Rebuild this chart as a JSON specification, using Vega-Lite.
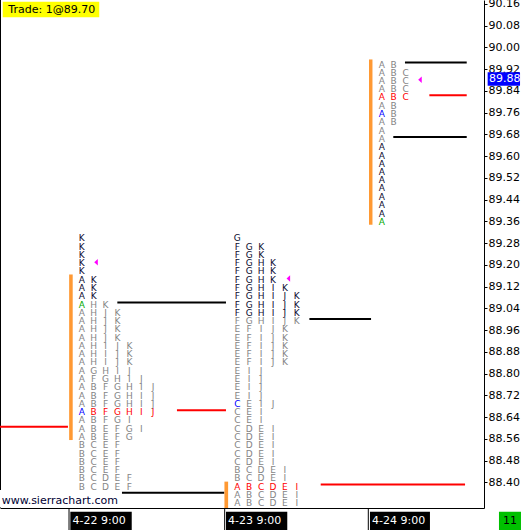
{
"$schema": "https://vega.github.io/schema/vega-lite/v6.json",
"width": 484, "height": 508,
"autosize": {"type": "none"},
"padding": {"left": 0, "top": 0, "right": 40, "bottom": 22},
"background": "white",
"config": {"view": {"stroke": null}, "font": "DejaVu Sans"},
"resolve": {"scale": {"color": "independent"}},
"encoding": {
  "x": {"field": "x", "type": "quantitative", "scale": {"domain": [0, 40.672], "nice": false, "zero": false},
        "axis": {"orient": "bottom", "title": null, "grid": false, "ticks": false, "labels": false, "domain": true, "domainColor": "#000000", "domainWidth": 1}},
  "y": {"field": "y", "type": "quantitative", "scale": {"domain": [88.306, 90.1747], "nice": false, "zero": false},
        "axis": {"orient": "right", "title": null, "grid": false, "format": ".2f",
                 "values": [88.40, 88.48, 88.56, 88.64, 88.72, 88.80, 88.88, 88.96, 89.04, 89.12, 89.20, 89.28, 89.36, 89.44, 89.52, 89.60, 89.68, 89.76, 89.84, 89.92, 90.00, 90.08, 90.16],
                 "domain": true, "domainColor": "#000000", "domainWidth": 1, "ticks": true, "tickSize": 3, "tickColor": "#000000", "tickWidth": 1,
                 "labelFont": "DejaVu Sans", "labelFontSize": 11, "labelColor": "#000000", "labelPadding": 1, "labelOverlap": false, "labelBound": false, "labelFlush": false}}
},
"layer": [
  {"data": {"values": [{"x": 0, "y": 88.306, "y2": 90.1747}]},
   "mark": {"type": "rule", "color": "#000000", "strokeWidth": 2},
   "encoding": {"y2": {"field": "y2"}}},
  {"data": {"values": [{"x": 5.8, "y": 88.306, "y2": 88.225}, {"x": 18.88, "y": 88.306, "y2": 88.225}, {"x": 30.95, "y": 88.306, "y2": 88.225}]},
   "mark": {"type": "rule", "color": "#000000", "strokeWidth": 1},
   "encoding": {"y2": {"field": "y2"}}},
  {"data": {"values": [
     {"x": 0, "x2": 5.71, "y": 88.605, "kind": "POC"},
     {"x": 9.86, "x2": 18.99, "y": 89.062, "kind": "VA"},
     {"x": 14.87, "x2": 18.99, "y": 88.666, "kind": "POC"},
     {"x": 9.87, "x2": 18.85, "y": 88.362, "kind": "VA"},
     {"x": 26.0, "x2": 31.18, "y": 89.001, "kind": "VA"},
     {"x": 26.95, "x2": 39.08, "y": 88.392, "kind": "POC"},
     {"x": 34.03, "x2": 39.22, "y": 89.945, "kind": "VA"},
     {"x": 36.08, "x2": 39.22, "y": 89.824, "kind": "POC"},
     {"x": 33.05, "x2": 39.22, "y": 89.671, "kind": "VA"}]},
   "mark": {"type": "rule", "strokeWidth": 2},
   "encoding": {"x2": {"field": "x2"}, "color": {"field": "kind", "type": "nominal", "scale": {"domain": ["VA", "POC"], "range": ["#000000", "#ff0000"]}, "legend": null}}},
  {"data": {"values": [
     {"x": 5.81, "x2": 6.11, "y": 89.165, "y2": 88.556},
     {"x": 18.86, "x2": 19.17, "y": 88.403, "y2": 88.306},
     {"x": 31.01, "x2": 31.30, "y": 89.956, "y2": 89.348}]},
   "mark": {"type": "rect", "color": "#ff9933"},
   "encoding": {"x2": {"field": "x2"}, "y2": {"field": "y2"}}},
  {"data": {"values": [
{"x":6.87,"y":89.302,"t":"K","s":"out"},
{"x":6.87,"y":89.271,"t":"K","s":"out"},
{"x":6.87,"y":89.241,"t":"K","s":"out"},
{"x":6.87,"y":89.21,"t":"K","s":"out"},
{"x":6.87,"y":89.18,"t":"K","s":"out"},
{"x":6.87,"y":89.15,"t":"A","s":"out"},{"x":7.87,"y":89.15,"t":"K","s":"out"},
{"x":6.87,"y":89.119,"t":"A","s":"out"},{"x":7.87,"y":89.119,"t":"K","s":"out"},
{"x":6.87,"y":89.089,"t":"A","s":"out"},{"x":7.87,"y":89.089,"t":"K","s":"out"},
{"x":6.87,"y":89.058,"t":"A","s":"m2"},{"x":7.87,"y":89.058,"t":"H","s":"in"},{"x":8.87,"y":89.058,"t":"K","s":"in"},
{"x":6.87,"y":89.028,"t":"A","s":"in"},{"x":7.87,"y":89.028,"t":"H","s":"in"},{"x":8.87,"y":89.028,"t":"J","s":"in"},{"x":9.87,"y":89.028,"t":"K","s":"in"},
{"x":6.87,"y":88.997,"t":"A","s":"in"},{"x":7.87,"y":88.997,"t":"H","s":"in"},{"x":8.87,"y":88.997,"t":"J","s":"in"},{"x":9.87,"y":88.997,"t":"K","s":"in"},
{"x":6.87,"y":88.967,"t":"A","s":"in"},{"x":7.87,"y":88.967,"t":"H","s":"in"},{"x":8.87,"y":88.967,"t":"J","s":"in"},{"x":9.87,"y":88.967,"t":"K","s":"in"},
{"x":6.87,"y":88.936,"t":"A","s":"in"},{"x":7.87,"y":88.936,"t":"H","s":"in"},{"x":8.87,"y":88.936,"t":"J","s":"in"},{"x":9.87,"y":88.936,"t":"K","s":"in"},
{"x":6.87,"y":88.906,"t":"A","s":"in"},{"x":7.87,"y":88.906,"t":"H","s":"in"},{"x":8.87,"y":88.906,"t":"I","s":"in"},{"x":9.87,"y":88.906,"t":"J","s":"in"},{"x":10.87,"y":88.906,"t":"K","s":"in"},
{"x":6.87,"y":88.875,"t":"A","s":"in"},{"x":7.87,"y":88.875,"t":"H","s":"in"},{"x":8.87,"y":88.875,"t":"I","s":"in"},{"x":9.87,"y":88.875,"t":"J","s":"in"},{"x":10.87,"y":88.875,"t":"K","s":"in"},
{"x":6.87,"y":88.845,"t":"A","s":"in"},{"x":7.87,"y":88.845,"t":"H","s":"in"},{"x":8.87,"y":88.845,"t":"I","s":"in"},{"x":9.87,"y":88.845,"t":"J","s":"in"},{"x":10.87,"y":88.845,"t":"K","s":"in"},
{"x":6.87,"y":88.814,"t":"A","s":"in"},{"x":7.87,"y":88.814,"t":"G","s":"in"},{"x":8.87,"y":88.814,"t":"H","s":"in"},{"x":9.87,"y":88.814,"t":"I","s":"in"},{"x":10.87,"y":88.814,"t":"J","s":"in"},
{"x":6.87,"y":88.784,"t":"A","s":"in"},{"x":7.87,"y":88.784,"t":"F","s":"in"},{"x":8.87,"y":88.784,"t":"G","s":"in"},{"x":9.87,"y":88.784,"t":"H","s":"in"},{"x":10.87,"y":88.784,"t":"I","s":"in"},{"x":11.87,"y":88.784,"t":"J","s":"in"},
{"x":6.87,"y":88.754,"t":"A","s":"in"},{"x":7.87,"y":88.754,"t":"B","s":"in"},{"x":8.87,"y":88.754,"t":"F","s":"in"},{"x":9.87,"y":88.754,"t":"G","s":"in"},{"x":10.87,"y":88.754,"t":"H","s":"in"},{"x":11.87,"y":88.754,"t":"I","s":"in"},{"x":12.87,"y":88.754,"t":"J","s":"in"},
{"x":6.87,"y":88.723,"t":"A","s":"in"},{"x":7.87,"y":88.723,"t":"B","s":"in"},{"x":8.87,"y":88.723,"t":"F","s":"in"},{"x":9.87,"y":88.723,"t":"G","s":"in"},{"x":10.87,"y":88.723,"t":"H","s":"in"},{"x":11.87,"y":88.723,"t":"I","s":"in"},{"x":12.87,"y":88.723,"t":"J","s":"in"},
{"x":6.87,"y":88.693,"t":"A","s":"in"},{"x":7.87,"y":88.693,"t":"B","s":"in"},{"x":8.87,"y":88.693,"t":"F","s":"in"},{"x":9.87,"y":88.693,"t":"G","s":"in"},{"x":10.87,"y":88.693,"t":"H","s":"in"},{"x":11.87,"y":88.693,"t":"I","s":"in"},{"x":12.87,"y":88.693,"t":"J","s":"in"},
{"x":6.87,"y":88.662,"t":"A","s":"m1"},{"x":7.87,"y":88.662,"t":"B","s":"poc"},{"x":8.87,"y":88.662,"t":"F","s":"poc"},{"x":9.87,"y":88.662,"t":"G","s":"poc"},{"x":10.87,"y":88.662,"t":"H","s":"poc"},{"x":11.87,"y":88.662,"t":"I","s":"poc"},{"x":12.87,"y":88.662,"t":"J","s":"poc"},
{"x":6.87,"y":88.632,"t":"A","s":"in"},{"x":7.87,"y":88.632,"t":"B","s":"in"},{"x":8.87,"y":88.632,"t":"F","s":"in"},{"x":9.87,"y":88.632,"t":"G","s":"in"},{"x":10.87,"y":88.632,"t":"I","s":"in"},
{"x":6.87,"y":88.601,"t":"A","s":"in"},{"x":7.87,"y":88.601,"t":"B","s":"in"},{"x":8.87,"y":88.601,"t":"E","s":"in"},{"x":9.87,"y":88.601,"t":"F","s":"in"},{"x":10.87,"y":88.601,"t":"G","s":"in"},{"x":11.87,"y":88.601,"t":"I","s":"in"},
{"x":6.87,"y":88.571,"t":"A","s":"in"},{"x":7.87,"y":88.571,"t":"B","s":"in"},{"x":8.87,"y":88.571,"t":"E","s":"in"},{"x":9.87,"y":88.571,"t":"F","s":"in"},{"x":10.87,"y":88.571,"t":"G","s":"in"},
{"x":6.87,"y":88.54,"t":"B","s":"in"},{"x":7.87,"y":88.54,"t":"C","s":"in"},{"x":8.87,"y":88.54,"t":"E","s":"in"},{"x":9.87,"y":88.54,"t":"F","s":"in"},
{"x":6.87,"y":88.51,"t":"B","s":"in"},{"x":7.87,"y":88.51,"t":"C","s":"in"},{"x":8.87,"y":88.51,"t":"E","s":"in"},{"x":9.87,"y":88.51,"t":"F","s":"in"},
{"x":6.87,"y":88.479,"t":"B","s":"in"},{"x":7.87,"y":88.479,"t":"C","s":"in"},{"x":8.87,"y":88.479,"t":"E","s":"in"},{"x":9.87,"y":88.479,"t":"F","s":"in"},
{"x":6.87,"y":88.449,"t":"B","s":"in"},{"x":7.87,"y":88.449,"t":"C","s":"in"},{"x":8.87,"y":88.449,"t":"E","s":"in"},{"x":9.87,"y":88.449,"t":"F","s":"in"},
{"x":6.87,"y":88.419,"t":"B","s":"in"},{"x":7.87,"y":88.419,"t":"C","s":"in"},{"x":8.87,"y":88.419,"t":"D","s":"in"},{"x":9.87,"y":88.419,"t":"E","s":"in"},{"x":10.87,"y":88.419,"t":"F","s":"in"},
{"x":6.87,"y":88.388,"t":"B","s":"in"},{"x":7.87,"y":88.388,"t":"C","s":"in"},{"x":8.87,"y":88.388,"t":"D","s":"in"},{"x":9.87,"y":88.388,"t":"E","s":"in"},{"x":10.87,"y":88.388,"t":"F","s":"in"},
{"x":19.94,"y":89.302,"t":"G","s":"out"},
{"x":19.94,"y":89.271,"t":"F","s":"out"},{"x":20.94,"y":89.271,"t":"G","s":"out"},{"x":21.94,"y":89.271,"t":"K","s":"out"},
{"x":19.94,"y":89.241,"t":"F","s":"out"},{"x":20.94,"y":89.241,"t":"G","s":"out"},{"x":21.94,"y":89.241,"t":"K","s":"out"},
{"x":19.94,"y":89.21,"t":"F","s":"out"},{"x":20.94,"y":89.21,"t":"G","s":"out"},{"x":21.94,"y":89.21,"t":"H","s":"out"},{"x":22.94,"y":89.21,"t":"K","s":"out"},
{"x":19.94,"y":89.18,"t":"F","s":"out"},{"x":20.94,"y":89.18,"t":"G","s":"out"},{"x":21.94,"y":89.18,"t":"H","s":"out"},{"x":22.94,"y":89.18,"t":"K","s":"out"},
{"x":19.94,"y":89.15,"t":"F","s":"out"},{"x":20.94,"y":89.15,"t":"G","s":"out"},{"x":21.94,"y":89.15,"t":"H","s":"out"},{"x":22.94,"y":89.15,"t":"K","s":"out"},
{"x":19.94,"y":89.119,"t":"F","s":"out"},{"x":20.94,"y":89.119,"t":"G","s":"out"},{"x":21.94,"y":89.119,"t":"H","s":"out"},{"x":22.94,"y":89.119,"t":"I","s":"out"},{"x":23.94,"y":89.119,"t":"K","s":"out"},
{"x":19.94,"y":89.089,"t":"F","s":"out"},{"x":20.94,"y":89.089,"t":"G","s":"out"},{"x":21.94,"y":89.089,"t":"H","s":"out"},{"x":22.94,"y":89.089,"t":"I","s":"out"},{"x":23.94,"y":89.089,"t":"J","s":"out"},{"x":24.94,"y":89.089,"t":"K","s":"out"},
{"x":19.94,"y":89.058,"t":"F","s":"out"},{"x":20.94,"y":89.058,"t":"G","s":"out"},{"x":21.94,"y":89.058,"t":"H","s":"out"},{"x":22.94,"y":89.058,"t":"I","s":"out"},{"x":23.94,"y":89.058,"t":"J","s":"out"},{"x":24.94,"y":89.058,"t":"K","s":"out"},
{"x":19.94,"y":89.028,"t":"F","s":"out"},{"x":20.94,"y":89.028,"t":"G","s":"out"},{"x":21.94,"y":89.028,"t":"H","s":"out"},{"x":22.94,"y":89.028,"t":"I","s":"out"},{"x":23.94,"y":89.028,"t":"J","s":"out"},{"x":24.94,"y":89.028,"t":"K","s":"out"},
{"x":19.94,"y":88.997,"t":"F","s":"in"},{"x":20.94,"y":88.997,"t":"G","s":"in"},{"x":21.94,"y":88.997,"t":"H","s":"in"},{"x":22.94,"y":88.997,"t":"I","s":"in"},{"x":23.94,"y":88.997,"t":"J","s":"in"},{"x":24.94,"y":88.997,"t":"K","s":"in"},
{"x":19.94,"y":88.967,"t":"E","s":"in"},{"x":20.94,"y":88.967,"t":"F","s":"in"},{"x":21.94,"y":88.967,"t":"I","s":"in"},{"x":22.94,"y":88.967,"t":"J","s":"in"},{"x":23.94,"y":88.967,"t":"K","s":"in"},
{"x":19.94,"y":88.936,"t":"E","s":"in"},{"x":20.94,"y":88.936,"t":"F","s":"in"},{"x":21.94,"y":88.936,"t":"I","s":"in"},{"x":22.94,"y":88.936,"t":"J","s":"in"},{"x":23.94,"y":88.936,"t":"K","s":"in"},
{"x":19.94,"y":88.906,"t":"E","s":"in"},{"x":20.94,"y":88.906,"t":"F","s":"in"},{"x":21.94,"y":88.906,"t":"I","s":"in"},{"x":22.94,"y":88.906,"t":"J","s":"in"},{"x":23.94,"y":88.906,"t":"K","s":"in"},
{"x":19.94,"y":88.875,"t":"E","s":"in"},{"x":20.94,"y":88.875,"t":"F","s":"in"},{"x":21.94,"y":88.875,"t":"I","s":"in"},{"x":22.94,"y":88.875,"t":"J","s":"in"},{"x":23.94,"y":88.875,"t":"K","s":"in"},
{"x":19.94,"y":88.845,"t":"E","s":"in"},{"x":20.94,"y":88.845,"t":"F","s":"in"},{"x":21.94,"y":88.845,"t":"I","s":"in"},{"x":22.94,"y":88.845,"t":"J","s":"in"},{"x":23.94,"y":88.845,"t":"K","s":"in"},
{"x":19.94,"y":88.814,"t":"E","s":"in"},{"x":20.94,"y":88.814,"t":"I","s":"in"},{"x":21.94,"y":88.814,"t":"J","s":"in"},
{"x":19.94,"y":88.784,"t":"E","s":"in"},{"x":20.94,"y":88.784,"t":"I","s":"in"},{"x":21.94,"y":88.784,"t":"J","s":"in"},
{"x":19.94,"y":88.754,"t":"E","s":"in"},{"x":20.94,"y":88.754,"t":"I","s":"in"},{"x":21.94,"y":88.754,"t":"J","s":"in"},
{"x":19.94,"y":88.723,"t":"E","s":"in"},{"x":20.94,"y":88.723,"t":"I","s":"in"},{"x":21.94,"y":88.723,"t":"J","s":"in"},
{"x":19.94,"y":88.693,"t":"C","s":"m1"},{"x":20.94,"y":88.693,"t":"E","s":"in"},{"x":21.94,"y":88.693,"t":"I","s":"in"},{"x":22.94,"y":88.693,"t":"J","s":"in"},
{"x":19.94,"y":88.662,"t":"C","s":"in"},{"x":20.94,"y":88.662,"t":"E","s":"in"},{"x":21.94,"y":88.662,"t":"I","s":"in"},
{"x":19.94,"y":88.632,"t":"C","s":"in"},{"x":20.94,"y":88.632,"t":"E","s":"in"},{"x":21.94,"y":88.632,"t":"I","s":"in"},
{"x":19.94,"y":88.601,"t":"C","s":"in"},{"x":20.94,"y":88.601,"t":"D","s":"in"},{"x":21.94,"y":88.601,"t":"E","s":"in"},{"x":22.94,"y":88.601,"t":"I","s":"in"},
{"x":19.94,"y":88.571,"t":"C","s":"in"},{"x":20.94,"y":88.571,"t":"D","s":"in"},{"x":21.94,"y":88.571,"t":"E","s":"in"},{"x":22.94,"y":88.571,"t":"I","s":"in"},
{"x":19.94,"y":88.54,"t":"C","s":"in"},{"x":20.94,"y":88.54,"t":"D","s":"in"},{"x":21.94,"y":88.54,"t":"E","s":"in"},{"x":22.94,"y":88.54,"t":"I","s":"in"},
{"x":19.94,"y":88.51,"t":"C","s":"in"},{"x":20.94,"y":88.51,"t":"D","s":"in"},{"x":21.94,"y":88.51,"t":"E","s":"in"},{"x":22.94,"y":88.51,"t":"I","s":"in"},
{"x":19.94,"y":88.479,"t":"C","s":"in"},{"x":20.94,"y":88.479,"t":"D","s":"in"},{"x":21.94,"y":88.479,"t":"E","s":"in"},{"x":22.94,"y":88.479,"t":"I","s":"in"},
{"x":19.94,"y":88.449,"t":"B","s":"in"},{"x":20.94,"y":88.449,"t":"C","s":"in"},{"x":21.94,"y":88.449,"t":"D","s":"in"},{"x":22.94,"y":88.449,"t":"E","s":"in"},{"x":23.94,"y":88.449,"t":"I","s":"in"},
{"x":19.94,"y":88.419,"t":"B","s":"in"},{"x":20.94,"y":88.419,"t":"C","s":"in"},{"x":21.94,"y":88.419,"t":"D","s":"in"},{"x":22.94,"y":88.419,"t":"E","s":"in"},{"x":23.94,"y":88.419,"t":"I","s":"in"},
{"x":19.94,"y":88.388,"t":"A","s":"poc"},{"x":20.94,"y":88.388,"t":"B","s":"poc"},{"x":21.94,"y":88.388,"t":"C","s":"poc"},{"x":22.94,"y":88.388,"t":"D","s":"poc"},{"x":23.94,"y":88.388,"t":"E","s":"poc"},{"x":24.94,"y":88.388,"t":"I","s":"poc"},
{"x":19.94,"y":88.358,"t":"A","s":"in"},{"x":20.94,"y":88.358,"t":"B","s":"in"},{"x":21.94,"y":88.358,"t":"C","s":"in"},{"x":22.94,"y":88.358,"t":"D","s":"in"},{"x":23.94,"y":88.358,"t":"E","s":"in"},{"x":24.94,"y":88.358,"t":"I","s":"in"},
{"x":19.94,"y":88.327,"t":"A","s":"in"},{"x":20.94,"y":88.327,"t":"B","s":"in"},{"x":21.94,"y":88.327,"t":"C","s":"in"},{"x":22.94,"y":88.327,"t":"D","s":"in"},{"x":23.94,"y":88.327,"t":"E","s":"in"},{"x":24.94,"y":88.327,"t":"I","s":"in"},
{"x":32.08,"y":89.941,"t":"A","s":"in"},{"x":33.08,"y":89.941,"t":"B","s":"in"},
{"x":32.08,"y":89.911,"t":"A","s":"in"},{"x":33.08,"y":89.911,"t":"B","s":"in"},{"x":34.08,"y":89.911,"t":"C","s":"in"},
{"x":32.08,"y":89.881,"t":"A","s":"in"},{"x":33.08,"y":89.881,"t":"B","s":"in"},{"x":34.08,"y":89.881,"t":"C","s":"in"},
{"x":32.08,"y":89.85,"t":"A","s":"in"},{"x":33.08,"y":89.85,"t":"B","s":"in"},{"x":34.08,"y":89.85,"t":"C","s":"in"},
{"x":32.08,"y":89.82,"t":"A","s":"poc"},{"x":33.08,"y":89.82,"t":"B","s":"poc"},{"x":34.08,"y":89.82,"t":"C","s":"poc"},
{"x":32.08,"y":89.789,"t":"A","s":"in"},{"x":33.08,"y":89.789,"t":"B","s":"in"},
{"x":32.08,"y":89.759,"t":"A","s":"m1"},{"x":33.08,"y":89.759,"t":"B","s":"in"},
{"x":32.08,"y":89.728,"t":"A","s":"in"},{"x":33.08,"y":89.728,"t":"B","s":"in"},
{"x":32.08,"y":89.698,"t":"A","s":"in"},
{"x":32.08,"y":89.667,"t":"A","s":"in"},
{"x":32.08,"y":89.637,"t":"A","s":"out"},
{"x":32.08,"y":89.606,"t":"A","s":"out"},
{"x":32.08,"y":89.576,"t":"A","s":"out"},
{"x":32.08,"y":89.545,"t":"A","s":"out"},
{"x":32.08,"y":89.515,"t":"A","s":"out"},
{"x":32.08,"y":89.485,"t":"A","s":"out"},
{"x":32.08,"y":89.454,"t":"A","s":"out"},
{"x":32.08,"y":89.424,"t":"A","s":"out"},
{"x":32.08,"y":89.393,"t":"A","s":"out"},
{"x":32.08,"y":89.363,"t":"A","s":"m2"}
   ]},
   "mark": {"type": "text", "font": "DejaVu Sans", "fontSize": 9, "align": "center", "baseline": "middle", "dy": 1},
   "encoding": {"text": {"field": "t"},
                "color": {"field": "s", "type": "nominal", "scale": {"domain": ["out", "in", "poc", "m1", "m2"], "range": ["#0c0c30", "#858585", "#ff0000", "#0000ff", "#00a800"]}, "legend": null}}},
  {"data": {"values": [{"x": 8.07, "y": 89.21}, {"x": 24.23, "y": 89.15}, {"x": 35.29, "y": 89.881}]},
   "mark": {"type": "point", "shape": "M0.55,-1L-0.55,0L0.55,1Z", "size": 42, "filled": true, "color": "#ff00ff", "opacity": 1}},
  {"data": {"values": [{"x": 0, "x2": 10.25, "y": 88.3722, "y2": 88.3078}]},
   "mark": {"type": "rect", "color": "#ffffff"},
   "encoding": {"x2": {"field": "x2"}, "y2": {"field": "y2"}}},
  {"data": {"values": [{"x": 0.14, "y": 88.3207, "label": "www.sierrachart.com"}]},
   "mark": {"type": "text", "font": "DejaVu Sans", "fontSize": 11, "align": "left", "baseline": "alphabetic", "color": "#000033"},
   "encoding": {"text": {"field": "label"}}},
  {"data": {"values": [{"x": 0.23, "x2": 8.34, "y": 90.1684, "y2": 90.1111}]},
   "mark": {"type": "rect", "color": "#ffff00"},
   "encoding": {"x2": {"field": "x2"}, "y2": {"field": "y2"}}},
  {"data": {"values": [{"x": 0.70, "y": 90.1379, "label": "Trade: 1@89.70"}]},
   "mark": {"type": "text", "font": "DejaVu Sans", "fontSize": 11, "align": "left", "baseline": "middle", "color": "#000000"},
   "encoding": {"text": {"field": "label"}}},
  {"data": {"values": [{"x": 40.98, "x2": 43.70, "y": 89.9087, "y2": 89.8594}]},
   "mark": {"type": "rect", "color": "#0000ff"},
   "encoding": {"x2": {"field": "x2"}, "y2": {"field": "y2"}}},
  {"data": {"values": [{"x": 41.10, "y": 89.8841, "label": "89.88"}]},
   "mark": {"type": "text", "font": "DejaVu Sans", "fontSize": 11, "align": "left", "baseline": "middle", "color": "#ffffff"},
   "encoding": {"text": {"field": "label"}}},
  {"data": {"values": [
     {"x": 5.91, "x2": 11.07, "y": 88.2923, "y2": 88.225},
     {"x": 18.99, "x2": 24.14, "y": 88.2923, "y2": 88.225},
     {"x": 31.09, "x2": 36.13, "y": 88.2923, "y2": 88.225}]},
   "mark": {"type": "rect", "color": "#000000"},
   "encoding": {"x2": {"field": "x2"}, "y2": {"field": "y2"}}},
  {"data": {"values": [
     {"x": 6.09, "y": 88.2581, "label": "4-22  9:00"},
     {"x": 19.16, "y": 88.2581, "label": "4-23  9:00"},
     {"x": 31.26, "y": 88.2581, "label": "4-24  9:00"}]},
   "mark": {"type": "text", "font": "DejaVu Sans", "fontSize": 11, "align": "left", "baseline": "middle", "color": "#ffffff"},
   "encoding": {"text": {"field": "label"}}},
  {"data": {"values": [{"x": 41.93, "x2": 43.78, "y": 88.2923, "y2": 88.225}]},
   "mark": {"type": "rect", "color": "#00c000"},
   "encoding": {"x2": {"field": "x2"}, "y2": {"field": "y2"}}},
  {"data": {"values": [{"x": 42.86, "y": 88.2581, "label": "11"}]},
   "mark": {"type": "text", "font": "DejaVu Sans", "fontSize": 11, "align": "center", "baseline": "middle", "color": "#000000"},
   "encoding": {"text": {"field": "label"}}}
]
}
